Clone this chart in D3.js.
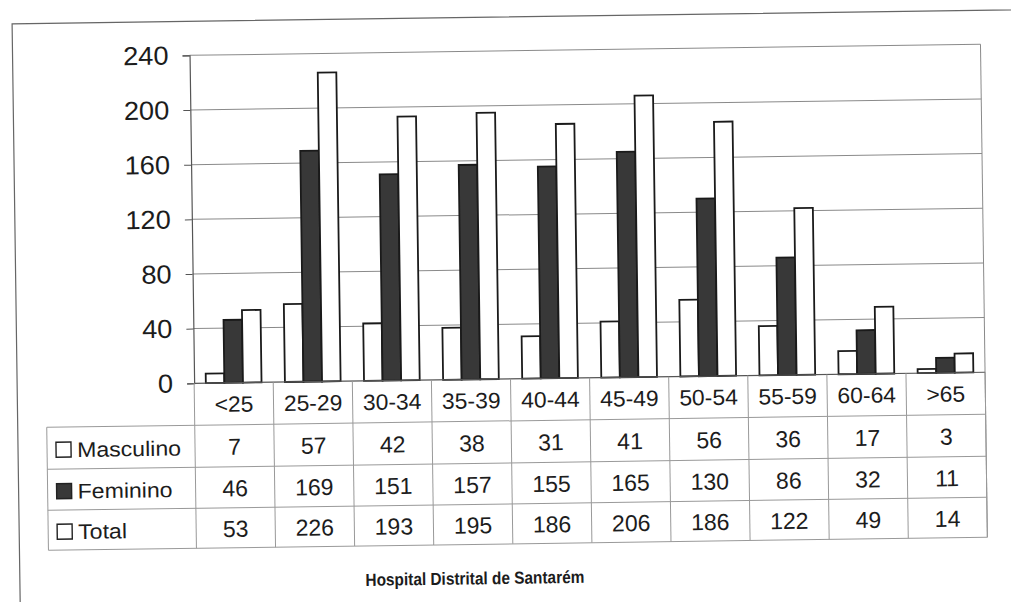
<!DOCTYPE html>
<html>
<head>
<meta charset="utf-8">
<script src="https://cdn.jsdelivr.net/npm/d3@7"></script>
<style>
  html, body { margin: 0; padding: 0; background: #fff; }
  svg { display: block; }
  text { font-family: "Liberation Sans", Arial, sans-serif; fill: #1c1c1c; }
</style>
</head>
<body>
<svg id="chart" width="1011" height="602"></svg>
<script>
// Age groups and staff counts per sex
const categories = ["<25", "25-29", "30-34", "35-39", "40-44", "45-49", "50-54", "55-59", "60-64", ">65"];
const masculino = [7, 57, 42, 38, 31, 41, 56, 36, 17, 3];
const feminino = [46, 169, 151, 157, 155, 165, 130, 86, 32, 11];
const total = [53, 226, 193, 195, 186, 206, 186, 122, 49, 14];
const seriesNames = ["Masculino", "Feminino", "Total"];
const yTicks = [0, 40, 80, 120, 160, 200, 240];
const title = "Hospital Distrital de Santarém";

const seriesValues = [masculino, feminino, total];
const seriesFill = ["#ffffff", "#383838", "#ffffff"];

const plot = { left: 193, right: 984, top: 51, bottom: 379 };
const tableLeft = 45;
const rowBounds = [379, 421, 463, 504, 544];

const svg = d3.select("#chart");
const root = svg.append("g").attr("transform", "rotate(-0.8, 500, 300)");

// outer frame
root.append("rect")
  .attr("x", 16).attr("y", 17).attr("width", 1100).attr("height", 700)
  .attr("fill", "none").attr("stroke", "#666").attr("stroke-width", 1.2);

const x0 = d3.scaleBand().domain(categories).range([plot.left, plot.right]).paddingInner(0).paddingOuter(0);
const x1 = d3.scaleBand().domain(seriesNames).range([0, x0.bandwidth()]).paddingInner(0).paddingOuter(0.63);
const y = d3.scaleLinear().domain([0, 240]).range([plot.bottom, plot.top]);

// horizontal gridlines
root.append("g").selectAll("line").data(yTicks.filter(d => d > 0)).join("line")
  .attr("x1", plot.left).attr("x2", plot.right)
  .attr("y1", d => y(d)).attr("y2", d => y(d))
  .attr("stroke", "#8a8a8a").attr("stroke-width", 1);

// right border of the plot area
root.append("line")
  .attr("x1", plot.right).attr("x2", plot.right)
  .attr("y1", plot.top).attr("y2", rowBounds[rowBounds.length - 1])
  .attr("stroke", "#8a8a8a").attr("stroke-width", 1);

// value axis
const yAxis = d3.axisLeft(y).tickValues(yTicks).tickSize(7).tickFormat(() => "");
const yg = root.append("g").attr("transform", `translate(${plot.left},0)`).call(yAxis);
yg.select(".domain").attr("stroke", "#555").attr("stroke-width", 1.2);
yg.selectAll(".tick line").attr("stroke", "#555");

const sx = 1.06;
function putText(g, x, yy, str, size, anchor, scaleX) {
  return g.append("text")
    .attr("transform", `translate(${x},${yy}) scale(${scaleX || sx},1)`)
    .attr("text-anchor", anchor)
    .attr("font-size", size)
    .text(str);
}

const txt = root.append("g");
// value axis labels
yTicks.forEach(t => putText(txt, plot.left - 21, y(t) + 9, t, 26, "end", 1.05));

// bars
const groups = root.append("g").selectAll("g").data(categories).join("g")
  .attr("transform", d => `translate(${x0(d)},0)`);
groups.selectAll("rect")
  .data((c, i) => seriesNames.map((s, k) => ({ s, k, v: seriesValues[k][i] })))
  .join("rect")
  .attr("x", d => x1(d.s))
  .attr("y", d => y(d.v))
  .attr("width", x1.bandwidth())
  .attr("height", d => y(0) - y(d.v))
  .attr("fill", d => seriesFill[d.k])
  .attr("stroke", "#1a1a1a")
  .attr("stroke-width", 1.8);

// category axis line
root.append("line")
  .attr("x1", plot.left).attr("x2", plot.right)
  .attr("y1", plot.bottom).attr("y2", plot.bottom)
  .attr("stroke", "#555").attr("stroke-width", 1.2);

// data table grid
const tableBottom = rowBounds[rowBounds.length - 1];
const tg = root.append("g").attr("stroke", "#999").attr("stroke-width", 1);
tg.selectAll("line.col").data(categories.map(c => x0(c)).concat([plot.right])).join("line")
  .attr("class", "col")
  .attr("x1", d => d).attr("x2", d => d)
  .attr("y1", plot.bottom).attr("y2", tableBottom);
tg.selectAll("line.row").data(rowBounds.slice(1)).join("line")
  .attr("class", "row")
  .attr("x1", tableLeft).attr("x2", plot.right)
  .attr("y1", d => d).attr("y2", d => d);
tg.append("line")
  .attr("x1", tableLeft).attr("x2", tableLeft)
  .attr("y1", rowBounds[1]).attr("y2", tableBottom);

// category labels
categories.forEach(c => {
  putText(txt, x0(c) + x0.bandwidth() / 2, (rowBounds[0] + rowBounds[1]) / 2 + 8, c, 22, "middle", 1.04);
});
// value rows with legend keys
seriesNames.forEach((s, k) => {
  const cy = (rowBounds[k + 1] + rowBounds[k + 2]) / 2 + 9;
  seriesValues[k].forEach((v, i) => {
    putText(txt, x0(categories[i]) + x0.bandwidth() / 2, cy, v, 23, "middle", 1.0);
  });
  txt.append("rect")
    .attr("x", 54).attr("y", cy - 15).attr("width", 15).attr("height", 15)
    .attr("fill", seriesFill[k]).attr("stroke", "#222").attr("stroke-width", 1.4);
  putText(txt, 75, cy, s, 21, "start", 1.1);
});

// chart title
root.append("text")
  .attr("transform", "translate(471,584) scale(0.88,1)")
  .attr("text-anchor", "middle")
  .attr("font-size", 17.5).attr("font-weight", "bold")
  .text(title);
</script>
</body>
</html>
